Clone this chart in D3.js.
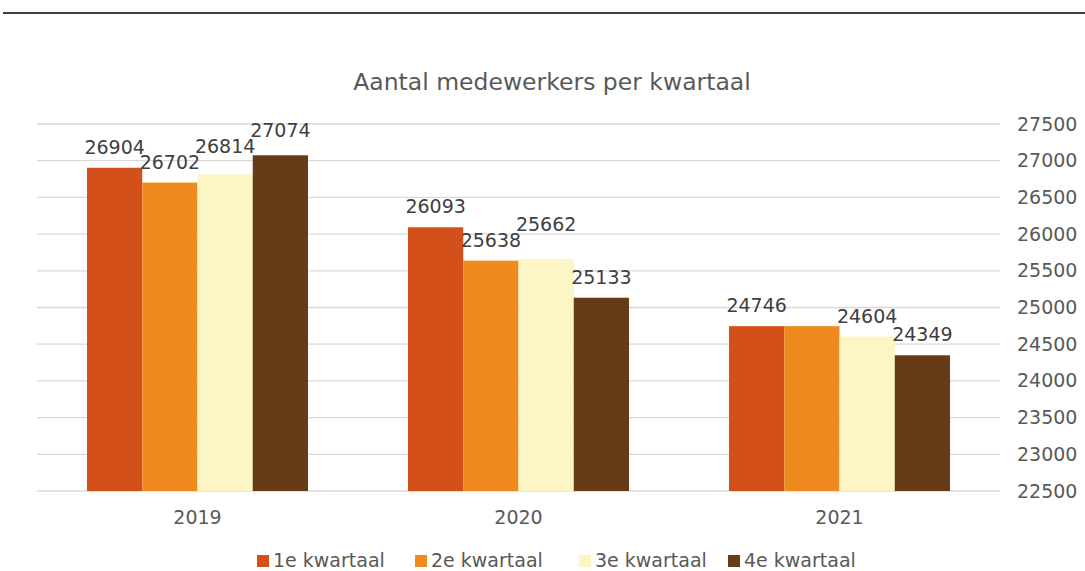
<!DOCTYPE html>
<html><head><meta charset="utf-8">
<script src="https://cdn.jsdelivr.net/npm/d3@7"></script>
<style>body{margin:0;background:#fff;}svg{display:block;font-family:"DejaVu Sans",Verdana,sans-serif;}</style>
</head><body>
<svg id="c" width="1085" height="571"></svg>
<script>
const categories = ["2019", "2020", "2021"];
const series = ["1e kwartaal", "2e kwartaal", "3e kwartaal", "4e kwartaal"];
const q1 = [26904, 26093, 24746];
const q2 = [26702, 25638, 24746];
const q3 = [26814, 25662, 24604];
const q4 = [27074, 25133, 24349];
const colors = ["#D4501A", "#EF8A1E", "#FDF5C3", "#653C16"];
const yTicks = [22500, 23000, 23500, 24000, 24500, 25000, 25500, 26000, 26500, 27000, 27500];
const hiddenLabels = [["2021", "2e kwartaal"]];
const title = "Aantal medewerkers per kwartaal";

(function () {
const values = [q1, q2, q3, q4];
const svg = d3.select("#c");
const pl = 37, pr = 1000, pt = 124, pb = 491;

svg.append("line").attr("x1", 3).attr("x2", 1085).attr("y1", 13).attr("y2", 13)
  .attr("stroke", "#000").attr("stroke-width", 1.5);

svg.append("text").attr("x", 552).attr("y", 90).attr("text-anchor", "middle")
  .attr("font-size", 23.5).attr("fill", "#595959").text(title);

const x0 = d3.scaleBand().domain(categories).range([pl, pr]).paddingInner(0.3115).paddingOuter(0.1557);
const x1 = d3.scaleBand().domain(series).range([0, x0.bandwidth()]);
const y = d3.scaleLinear().domain([22500, 27500]).range([pb, pt]);

svg.append("g").selectAll("line").data(yTicks).join("line")
  .attr("x1", pl).attr("x2", pr)
  .attr("y1", d => y(d)).attr("y2", d => y(d))
  .attr("stroke", "#D9D9D9").attr("stroke-width", 1.3);

const ax = svg.append("g").attr("transform", `translate(${pr},0)`)
  .call(d3.axisRight(y).tickValues(yTicks).tickSize(0).tickPadding(17).tickFormat(d3.format("d")));
ax.select(".domain").remove();
ax.selectAll("text").attr("font-size", 19).attr("fill", "#595959").attr("font-family", "DejaVu Sans, Verdana, sans-serif");

const bx = svg.append("g").attr("transform", `translate(0,${pb})`)
  .call(d3.axisBottom(x0).tickSize(0).tickPadding(20));
bx.select(".domain").remove();
bx.selectAll("text").attr("font-size", 19).attr("fill", "#595959").attr("font-family", "DejaVu Sans, Verdana, sans-serif");

const rows = [];
categories.forEach((c, ci) => series.forEach((s, si) => rows.push({c, s, si, v: values[si][ci]})));

svg.append("g").selectAll("rect").data(rows).join("rect")
  .attr("x", d => x0(d.c) + x1(d.s))
  .attr("width", x1.bandwidth())
  .attr("y", d => y(d.v))
  .attr("height", d => pb - y(d.v))
  .attr("fill", d => colors[d.si]);

const fs = 19, lh = 13, labW = 60;
const lg = svg.append("g");
categories.forEach(c => {
  const placed = [];
  series.forEach((s, si) => {
    if (hiddenLabels.some(h => h[0] === c && h[1] === s)) return;
    const v = values[si][categories.indexOf(c)];
    const cx = x0(c) + x1(s) + x1.bandwidth() / 2;
    let base = y(v) - 14;
    placed.forEach(p => {
      const hOverlap = Math.abs(p.cx - cx) < labW;
      if (hOverlap && base > p.base - lh - 1 && base - lh < p.base) base = p.base - lh - 3;
    });
    placed.push({cx, base});
    lg.append("text").attr("x", cx).attr("y", base).attr("text-anchor", "middle")
      .attr("font-size", fs).attr("fill", "#404040").text(d3.format("d")(v));
  });
});

const legX = [257, 415, 579, 728];
const leg = svg.append("g");
series.forEach((s, i) => {
  leg.append("rect").attr("x", legX[i]).attr("y", 555).attr("width", 12).attr("height", 12).attr("fill", colors[i]);
  leg.append("text").attr("x", legX[i] + 16).attr("y", 567).attr("font-size", 19).attr("fill", "#595959").text(s);
});
})();
</script>
</body></html>
